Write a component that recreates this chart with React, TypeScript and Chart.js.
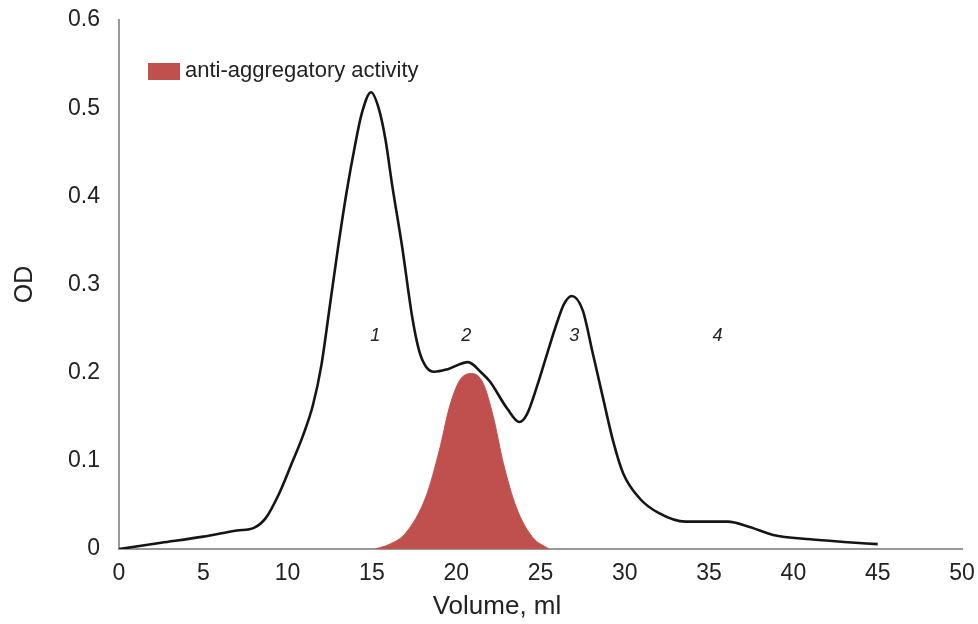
import React, { useEffect, useRef } from "react";
import { Chart, registerables } from "chart.js";

Chart.register(...registerables);

const odVolume = [0, 2.5, 5, 7, 8, 8.7, 9.5, 10.2, 10.9, 11.5, 12, 12.5, 13, 13.5, 14, 14.4, 14.95, 15.4, 15.8, 16.2, 16.8, 17.4, 17.8, 18.2, 18.7, 19.5, 20.7, 21.5, 22, 23, 23.75, 24.2, 24.8, 25.4, 26, 26.4, 26.85, 27.5, 28.1, 28.7, 29.3, 29.9, 30.9, 32, 33.6, 36.1, 37.4, 38.8, 41, 43, 45];
const odValues = [0, 0.007, 0.014, 0.021, 0.024, 0.035, 0.063, 0.095, 0.128, 0.163, 0.208, 0.275, 0.343, 0.405, 0.458, 0.494, 0.518, 0.5, 0.465, 0.413, 0.342, 0.262, 0.225, 0.207, 0.201, 0.204, 0.212, 0.2, 0.19, 0.16, 0.144, 0.153, 0.185, 0.222, 0.258, 0.278, 0.287, 0.271, 0.222, 0.172, 0.123, 0.086, 0.057, 0.041, 0.031, 0.031, 0.025, 0.016, 0.011, 0.008, 0.0055];

const activityVolume = [15.2, 16, 17.0, 18.2, 19.0, 19.6, 20.2, 20.9, 21.6, 22.2, 22.8, 23.55, 24.5, 25.5];
const activityValues = [0, 0.005, 0.018, 0.059, 0.112, 0.161, 0.191, 0.199, 0.188, 0.15, 0.097, 0.048, 0.014, 0];

const peakLabels = ["1", "2", "3", "4"];
const peakLabelX = [15.2, 20.6, 27.0, 35.5];
const peakLabelY = [0.242, 0.242, 0.242, 0.242];

const xTitle = "Volume, ml";
const yTitle = "OD";
const legendLabel = "anti-aggregatory activity";

const FONT = "'Liberation Sans', Arial, sans-serif";
const RED = "#c0504d";

export default function App() {
  const ref = useRef<HTMLCanvasElement | null>(null);

  useEffect(() => {
    if (!ref.current) return;
    const overlay = {
      id: "overlay",
      afterDatasetsDraw(chart: any) {
        const { ctx, chartArea, scales } = chart;
        ctx.save();
        ctx.fillStyle = "#222";
        ctx.font = `italic 18px ${FONT}`;
        ctx.textAlign = "center";
        ctx.textBaseline = "middle";
        peakLabels.forEach((t, i) => {
          ctx.fillText(t, scales.x.getPixelForValue(peakLabelX[i]), scales.y.getPixelForValue(peakLabelY[i]));
        });
        const lx = chartArea.left + 29;
        const ly = chartArea.top + 43;
        ctx.fillStyle = RED;
        ctx.fillRect(lx, ly, 32, 17);
        ctx.fillStyle = "#222";
        ctx.font = `22px ${FONT}`;
        ctx.textAlign = "left";
        ctx.fillText(chart.data.datasets[1].label, lx + 37, ly + 8);
        ctx.font = `26px ${FONT}`;
        ctx.textAlign = "center";
        ctx.fillText(xTitle, 497, 607);
        ctx.restore();
      },
    };

    const chart = new Chart(ref.current, {
      type: "line",
      data: {
        datasets: [
          {
            label: "OD",
            data: odVolume.map((x, i) => ({ x, y: odValues[i] })),
            borderColor: "#151515",
            borderWidth: 2.6,
            pointRadius: 0,
            cubicInterpolationMode: "monotone",
            fill: false,
            order: 0,
          },
          {
            label: legendLabel,
            data: activityVolume.map((x, i) => ({ x, y: activityValues[i] })),
            borderColor: RED,
            backgroundColor: RED,
            borderWidth: 1,
            pointRadius: 0,
            cubicInterpolationMode: "monotone",
            fill: "origin",
            order: 1,
          },
        ],
      },
      options: {
        animation: false,
        responsive: true,
        maintainAspectRatio: false,
        layout: { padding: { left: 0, right: 16, top: 20, bottom: 0 } },
        plugins: { legend: { display: false }, tooltip: { enabled: false } },
        scales: {
          x: {
            type: "linear",
            min: 0,
            max: 50,
            grid: { display: false, drawTicks: false },
            border: { display: true, color: "#999", width: 2 },
            ticks: { stepSize: 5, padding: 11, color: "#222", font: { family: FONT, size: 23 } },
            afterFit: (s: any) => {
              s.height = 75;
              s.paddingLeft = 0;
              s.paddingRight = 0;
            },
          },
          y: {
            type: "linear",
            min: 0,
            max: 0.6,
            grid: { display: false, drawTicks: false },
            border: { display: true, color: "#999", width: 2 },
            ticks: {
              stepSize: 0.1,
              padding: 19,
              color: "#222",
              font: { family: FONT, size: 23 },
              callback: (v: any) => (Math.round(Number(v) * 10) / 10).toString(),
            },
            title: {
              display: true,
              text: yTitle,
              color: "#222",
              font: { family: FONT, size: 25, lineHeight: 1.2 },
              padding: { top: 10, bottom: 0 },
            },
            afterFit: (s: any) => {
              s.width = 119;
              s.paddingTop = 0;
              s.paddingBottom = 0;
            },
          },
        },
      },
      plugins: [overlay],
    } as any);
    return () => chart.destroy();
  }, []);

  return (
    <div style={{ position: "fixed", left: 0, top: 0, width: 978, height: 624, background: "#fff" }}>
      <canvas ref={ref} />
    </div>
  );
}
